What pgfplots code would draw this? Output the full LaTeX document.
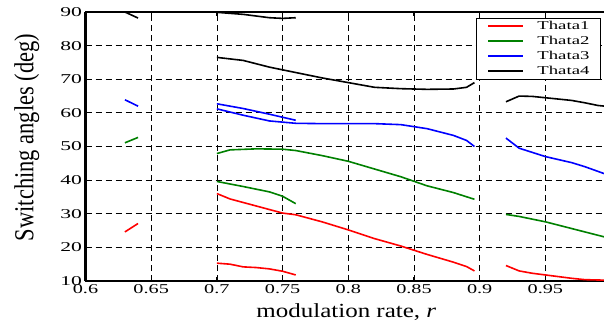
\documentclass[border=0pt]{standalone}
\usepackage{fontspec}
\setmainfont{Liberation Serif}
\usepackage{graphicx}
\usepackage{pgfplots}
\pgfplotsset{compat=1.18}
\definecolor{mred}{RGB}{255,0,0}
\definecolor{mgreen}{RGB}{0,128,0}
\definecolor{mblue}{RGB}{0,0,255}
\newcommand\sx[1]{\scalebox{1.5}[1]{#1}}
\newcommand\sy[1]{\scalebox{1.6}[1]{#1}}
\newcommand\slg[1]{\scalebox{1.56}[1]{#1}}
\begin{document}
\begin{tikzpicture}
\begin{axis}[
  width=518.5pt, height=269pt, scale only axis,
  xmin=0.6, xmax=0.9946, ymin=10, ymax=90,
  axis x line*=box, axis y line*=left,
  axis line style={line width=2.5pt,-},
  xtick={0.6,0.65,0.7,0.75,0.8,0.85,0.9,0.95},
  xticklabels={\sx{0.6},\sx{0.65},\sx{0.7},\sx{0.75},\sx{0.8},\sx{0.85},\sx{0.9},\sx{0.95}},
  ytick={10,20,30,40,50,60,70,80,90},
  yticklabels={\sy{10},\sy{20},\sy{30},\sy{40},\sy{50},\sy{60},\sy{70},\sy{80},\sy{90}},
  ticklabel style={font=\fontsize{13.5}{15}\selectfont},
  /pgf/number format/assume math mode=true,
  tick align=inside, major tick length=4pt,
  tick style={line width=1.2pt,black},
  xmajorgrids, ymajorgrids,
  major grid style={black, line width=0.8pt, dash pattern=on 6pt off 4pt},
  xlabel={\scalebox{1.25}[1]{modulation rate, \textit{r}}},
  ylabel={\scalebox{1}[1.22]{Switching angles (deg)}},
  xlabel style={at={(axis description cs:0.503,-0.1375)}, anchor=base, font=\fontsize{20}{24}\selectfont},
  ylabel style={at={(axis description cs:-0.1003,0.5335)}, anchor=base, font=\fontsize{22.5}{26}\selectfont},
  unbounded coords=jump,
  legend style={at={(0.753,0.978)}, anchor=north west, draw=black, line width=1pt,
    font=\fontsize{12}{14}\selectfont,
    nodes={inner xsep=0pt, inner ysep=0pt, text height=9pt, text depth=3pt},
    row sep=3pt, column sep=13pt, inner xsep=11pt, inner ysep=2pt},
  legend cell align=left,
  legend image code/.code={\draw[#1, line width=2pt] (0pt,0pt) -- (35pt,0pt);},
]
\addplot[mred, line width=1.6pt] coordinates {
(0.63,24.6)(0.64,27.1) (0.65,nan)
(0.70,36.0)(0.71,34.4)(0.73,32.3)(0.75,30.2)(0.76,29.7)(0.78,27.6)(0.80,25.2)(0.82,22.6)(0.84,20.4)(0.86,17.9)(0.88,15.6)(0.89,14.3)(0.896,13.0) (0.9,nan)
(0.70,15.3)(0.71,15.0)(0.72,14.2)(0.73,14.0)(0.74,13.6)(0.75,12.9)(0.76,11.8) (0.8,nan)
(0.92,14.6)(0.93,13.0)(0.94,12.3)(0.95,11.8)(0.96,11.3)(0.97,10.8)(0.98,10.4)(1.0,10.2)
};
\addlegendentry{\slg{Thata1}}
\addplot[mgreen, line width=1.6pt] coordinates {
(0.63,51.1)(0.64,52.7) (0.65,nan)
(0.70,47.9)(0.71,49.0)(0.73,49.3)(0.75,49.2)(0.76,48.8)(0.78,47.3)(0.80,45.6)(0.82,43.3)(0.84,41.0)(0.86,38.3)(0.88,36.3)(0.896,34.3) (0.9,nan)
(0.70,39.6)(0.72,38.1)(0.74,36.5)(0.75,35.2)(0.76,33.0) (0.8,nan)
(0.92,29.8)(0.93,29.2)(0.95,27.6)(0.97,25.6)(0.99,23.6)(1.0,22.6)
};
\addlegendentry{\slg{Thata2}}
\addplot[mblue, line width=1.6pt] coordinates {
(0.63,63.9)(0.64,62.0) (0.65,nan)
(0.70,62.7)(0.72,61.3)(0.74,59.6)(0.76,57.8) (0.8,nan)
(0.70,61.2)(0.72,59.3)(0.74,57.6)(0.76,56.9)(0.78,56.8)(0.80,56.8)(0.82,56.8)(0.84,56.5)(0.86,55.3)(0.88,53.3)(0.89,51.8)(0.896,50.0) (0.9,nan)
(0.92,52.5)(0.93,49.5)(0.95,47.0)(0.97,45.2)(0.98,44.0)(1.0,41.2)
};
\addlegendentry{\slg{Thata3}}
\addplot[black, line width=1.6pt] coordinates {
(0.63,90.0)(0.64,88.2) (0.65,nan)
(0.70,89.9)(0.72,89.3)(0.74,88.3)(0.75,88.1)(0.76,88.3) (0.8,nan)
(0.70,76.5)(0.72,75.6)(0.74,73.6)(0.76,72.0)(0.78,70.4)(0.80,69.0)(0.82,67.6)(0.84,67.2)(0.86,67.0)(0.88,67.1)(0.89,67.6)(0.896,69.0) (0.9,nan)
(0.92,63.3)(0.93,65.0)(0.94,64.9)(0.95,64.5)(0.96,64.1)(0.97,63.7)(0.98,63.0)(0.99,62.2)(1.0,61.8)
};
\addlegendentry{\slg{Thata4}}
\end{axis}
\pgfresetboundingbox
\path[use as bounding box] (-85.5pt,-48pt) rectangle (518.5pt,281pt);
\end{tikzpicture}
\end{document}
